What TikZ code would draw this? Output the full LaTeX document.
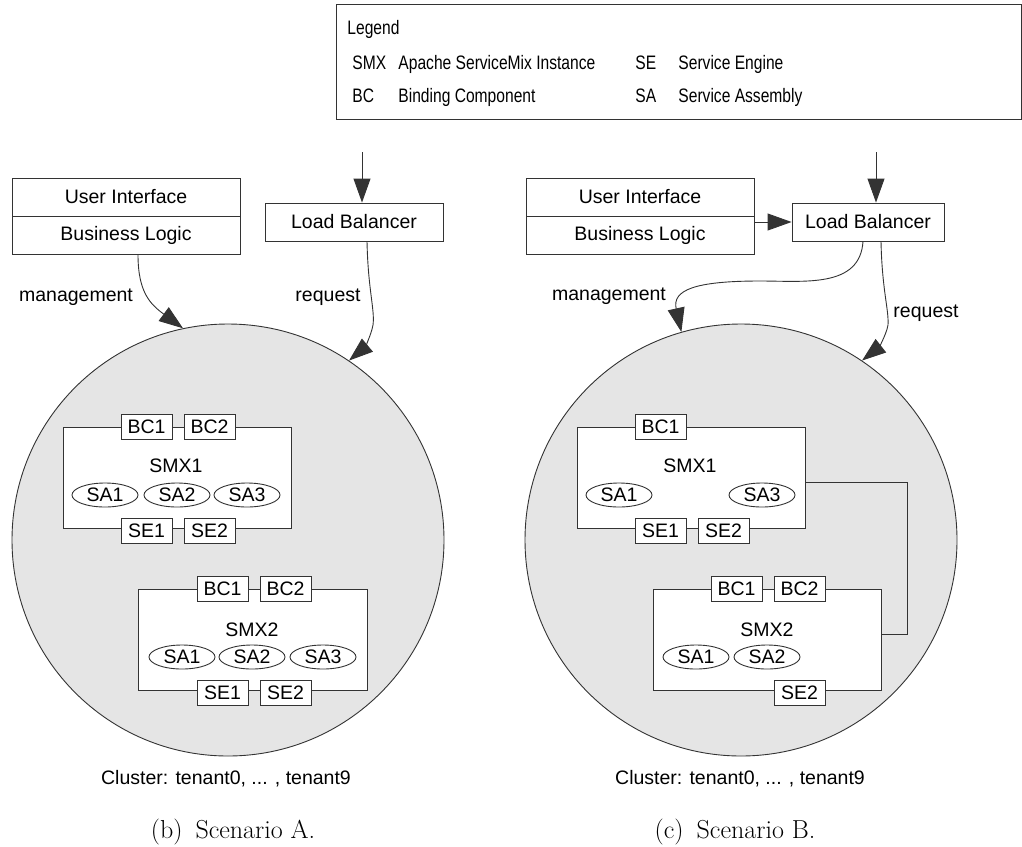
\documentclass[tikz,border=0pt]{standalone}
\usepackage{fontspec}
\usetikzlibrary{arrows.meta,shapes.geometric}
\newfontfamily\diagfont{Liberation Sans}
\newfontfamily\legendfont[FakeStretch=0.8]{Liberation Sans}
\colorlet{linecol}{black!80}
\tikzset{
  txt/.style={font=\diagfont\fontsize{19.5}{23}\selectfont,inner sep=0pt},
  legtxt/.style={font=\legendfont\fontsize{19.5}{23}\selectfont,inner sep=0pt,anchor=base west},
  capt/.style={font=\fontsize{26}{30}\selectfont,inner sep=0pt},
  tierbox/.style={txt,rectangle,draw=linecol,fill=white,minimum width=228pt,minimum height=38pt},
  smxbox/.style={rectangle,draw=linecol,fill=white,minimum width=228pt,minimum height=101pt},
  compbox/.style={txt,rectangle,draw=linecol,fill=white,minimum width=51pt,minimum height=25pt},
  sabox/.style={txt,ellipse,draw=linecol,fill=white,minimum width=66pt,minimum height=24pt},
  cluster/.style={circle,draw=linecol,fill=black!10,minimum size=432pt,inner sep=0pt},
  link/.style={draw=linecol},
  arr/.style={link,-{Triangle[length=24pt,width=17pt]}}
}
\begin{document}
\begin{tikzpicture}[x=1pt,y=-1pt,line width=0.9pt]
\useasboundingbox (0,0) rectangle (1022,846);
% legend
\node[rectangle,draw=linecol,minimum width=685pt,minimum height=115pt] (legend) at (678.5,61.5) {};
\node[legtxt] (legtitle) at (347,34) {Legend};
\node[legtxt] (legsmx) at (352,69) {SMX};
\node[legtxt] (legsmxtxt) at (398,69) {Apache ServiceMix Instance};
\node[legtxt] (legbc) at (352,102) {BC};
\node[legtxt] (legbctxt) at (398,102) {Binding Component};
\node[legtxt] (legse) at (635,69) {SE};
\node[legtxt] (legsetxt) at (678,69) {Service Engine};
\node[legtxt] (legsa) at (635,102) {SA};
\node[legtxt] (legsatxt) at (678,102) {Service Assembly};

% scenario A
\node[tierbox] (uiA) at (126,197) {User Interface};
\node[tierbox] (blA) at (126,235) {Business Logic};
\node[tierbox,minimum width=178pt] (lbA) at (354,222) {Load Balancer};
\coordinate (inA) at (362,152);
\node[cluster] (clA) at (228,540) {};
\draw[arr] (inA) -- (inA |- lbA.north);
\draw[arr] ([xshift=12pt]blA.south) .. controls (138,292) and (150,304) .. (clA.102);
\draw[arr] ([xshift=13pt]lbA.south) .. controls (368,290) and (375,310) .. (373,325)
  .. controls (371,336) and (364,348) .. (clA.56);
\node[txt] (mgmtA) at (76,297) {management};
\node[txt] (reqA) at (328,297) {request};

\node[smxbox] (smxA1) at (177,477.5) {};
\node[txt] at (176,466) {SMX1};
\node[compbox] (bcA11) at (146.5,426.5) {BC1};
\node[compbox] (bcA12) at (209.5,426.5) {BC2};
\node[compbox] (seA11) at (146.5,530.5) {SE1};
\node[compbox] (seA12) at (209.5,530.5) {SE2};
\foreach \i/\x in {1/105,2/177,3/247}
  \node[sabox] (saA1\i) at (\x,495) {SA\i};

\node[smxbox,minimum width=229pt] (smxA2) at (252.5,639.5) {};
\node[txt] at (252,630) {SMX2};
\node[compbox] (bcA21) at (222.5,589) {BC1};
\node[compbox] (bcA22) at (285.5,589) {BC2};
\node[compbox] (seA21) at (222.5,693) {SE1};
\node[compbox] (seA22) at (285.5,693) {SE2};
\foreach \i/\x in {1/182,2/252,3/323}
  \node[sabox] (saA2\i) at (\x,657) {SA\i};

\node[txt] (clusterA) at (226,779) {Cluster: tenant0, ... , tenant9};
\node[capt] (captA) at (233,832) {(b)\enspace Scenario A.};

% scenario B
\node[tierbox] (uiB) at (640,197) {User Interface};
\node[tierbox] (blB) at (640,235) {Business Logic};
\node[tierbox,minimum width=152pt] (lbB) at (868,222) {Load Balancer};
\coordinate (inB) at (876,152);
\node[cluster] (clB) at (741,540) {};
\draw[arr] (inB) -- (inB |- lbB.north);
\draw[arr] (blB.north east |- lbB.west) -- (lbB.west);
\draw[arr] ([xshift=-5pt]lbB.south) .. controls (860,288) and (805,281) .. (760,281)
  .. controls (695,281) and (672,290) .. (clB.106);
\draw[arr] ([xshift=13pt]lbB.south) .. controls (882,290) and (889,310) .. (888,325)
  .. controls (886,336) and (878,348) .. (clB.56);
\node[txt] (mgmtB) at (609,296) {management};
\node[txt] (reqB) at (926,313) {request};

\node[smxbox] (smxB1) at (691,477.5) {};
\node[smxbox] (smxB2) at (767,639.5) {};
\draw[link] ([yshift=-4.5pt]smxB1.east) -- ++(102,0) |- ([yshift=5.5pt]smxB2.east);
\node[txt] at (690,466) {SMX1};
\node[compbox] (bcB11) at (660.5,426.5) {BC1};
\node[compbox] (seB11) at (660.5,530.5) {SE1};
\node[compbox] (seB12) at (723.5,530.5) {SE2};
\node[sabox] (saB11) at (619,495) {SA1};
\node[sabox] (saB13) at (762,495) {SA3};

\node[txt] at (767,630) {SMX2};
\node[compbox] (bcB21) at (736.5,589) {BC1};
\node[compbox] (bcB22) at (799.5,589) {BC2};
\node[compbox] (seB22) at (799.5,693) {SE2};
\node[sabox] (saB21) at (696,657) {SA1};
\node[sabox] (saB22) at (767,657) {SA2};

\node[txt] (clusterB) at (740,779) {Cluster: tenant0, ... , tenant9};
\node[capt] (captB) at (735,832) {(c)\enspace Scenario B.};
\end{tikzpicture}
\end{document}
